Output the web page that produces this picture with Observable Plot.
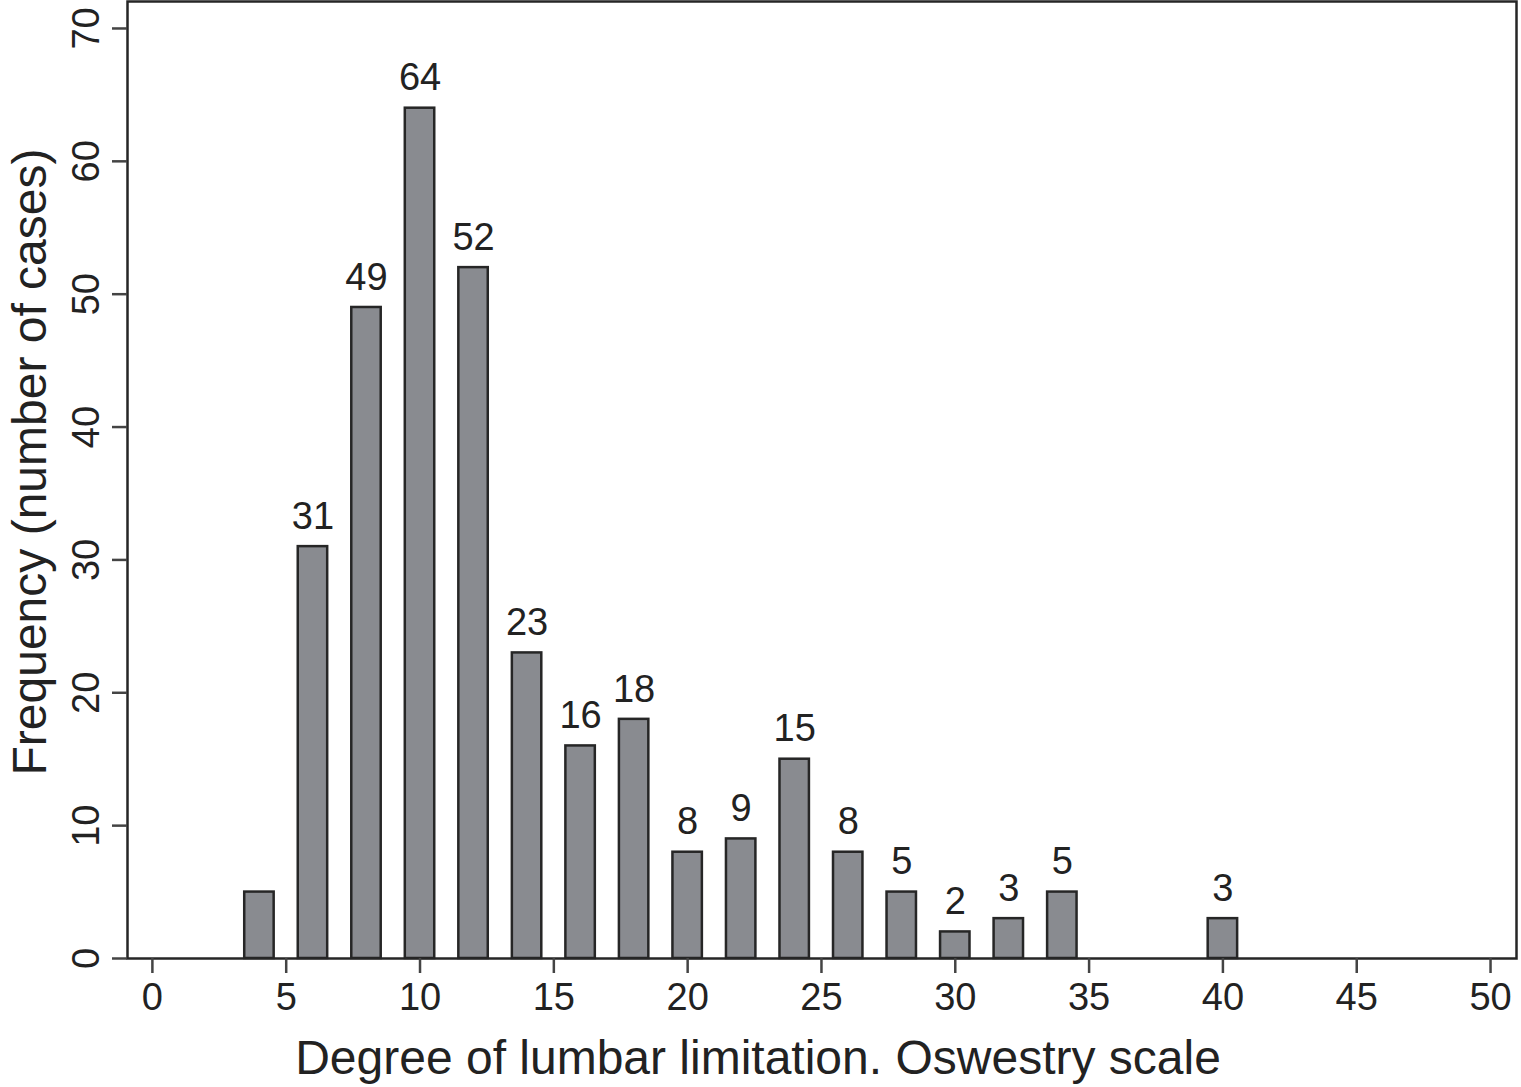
<!DOCTYPE html>
<html>
<head>
<meta charset="utf-8">
<script src="https://cdn.jsdelivr.net/npm/d3@7"></script>
<script src="https://cdn.jsdelivr.net/npm/@observablehq/plot@0.6"></script>
<style>
  body { margin: 0; background: #fff; }
  svg { font-family: "Liberation Sans", Arial, Helvetica, sans-serif; }
</style>
</head>
<body>
<div id="chart"></div>
<script>
const scores = [4, 6, 8, 10, 12, 14, 16, 18, 20, 22, 24, 26, 28, 30, 32, 34, 40];
const counts = [5, 31, 49, 64, 52, 23, 16, 18, 8, 9, 15, 8, 5, 2, 3, 5, 3];
const showLabel = [false, true, true, true, true, true, true, true, true, true, true, true, true, true, true, true, true];
const xTicks = [0, 5, 10, 15, 20, 25, 30, 35, 40, 45, 50];
const yTicks = [0, 10, 20, 30, 40, 50, 60, 70];
const xTitle = "Degree of lumbar limitation. Oswestry scale";
const yTitle = "Frequency (number of cases)";

const data = scores.map((s, i) => ({score: s, count: counts[i], label: showLabel[i]}));
const halfWidth = 0.55;

const chart = Plot.plot({
  width: 1521,
  height: 1087,
  marginLeft: 127,
  marginRight: 5,
  marginTop: 1,
  marginBottom: 129,
  style: {fontFamily: '"Liberation Sans", Arial, Helvetica, sans-serif', background: "#fff", color: "#222"},
  x: {domain: [-0.93, 50.97]},
  y: {domain: [0, 72.03]},
  marks: [
    Plot.rectY(data, {
      x1: d => d.score - halfWidth,
      x2: d => d.score + halfWidth,
      y1: 0,
      y2: "count",
      fill: "#898b90",
      stroke: "#262626",
      strokeWidth: 2.5
    }),
    Plot.text(data.filter(d => d.label), {
      x: "score",
      y: "count",
      text: d => String(d.count),
      dy: -30,
      fontSize: 38,
      fill: "#222"
    }),
    Plot.frame({stroke: "#262626", strokeWidth: 2.5}),
    Plot.axisX(xTicks, {
      tickSize: 15,
      tickPadding: 10,
      fontSize: 38,
      stroke: "#444",
      strokeWidth: 2.5,
      label: null
    }),
    Plot.axisY(yTicks, {
      tickSize: 15,
      tickPadding: 14,
      tickRotate: -90,
      fontSize: 38,
      stroke: "#444",
      strokeWidth: 2.5,
      label: null
    }),
    Plot.text([xTitle], {
      frameAnchor: "bottom",
      lineAnchor: "middle",
      textAnchor: "middle",
      dx: -64,
      dy: 100,
      fontSize: 48,
      fill: "#222"
    }),
    Plot.text([yTitle], {
      frameAnchor: "left",
      lineAnchor: "middle",
      textAnchor: "middle",
      dx: -97,
      dy: -18,
      rotate: -90,
      fontSize: 48,
      fill: "#222"
    })
  ]
});
document.getElementById("chart").appendChild(chart);
</script>
</body>
</html>
